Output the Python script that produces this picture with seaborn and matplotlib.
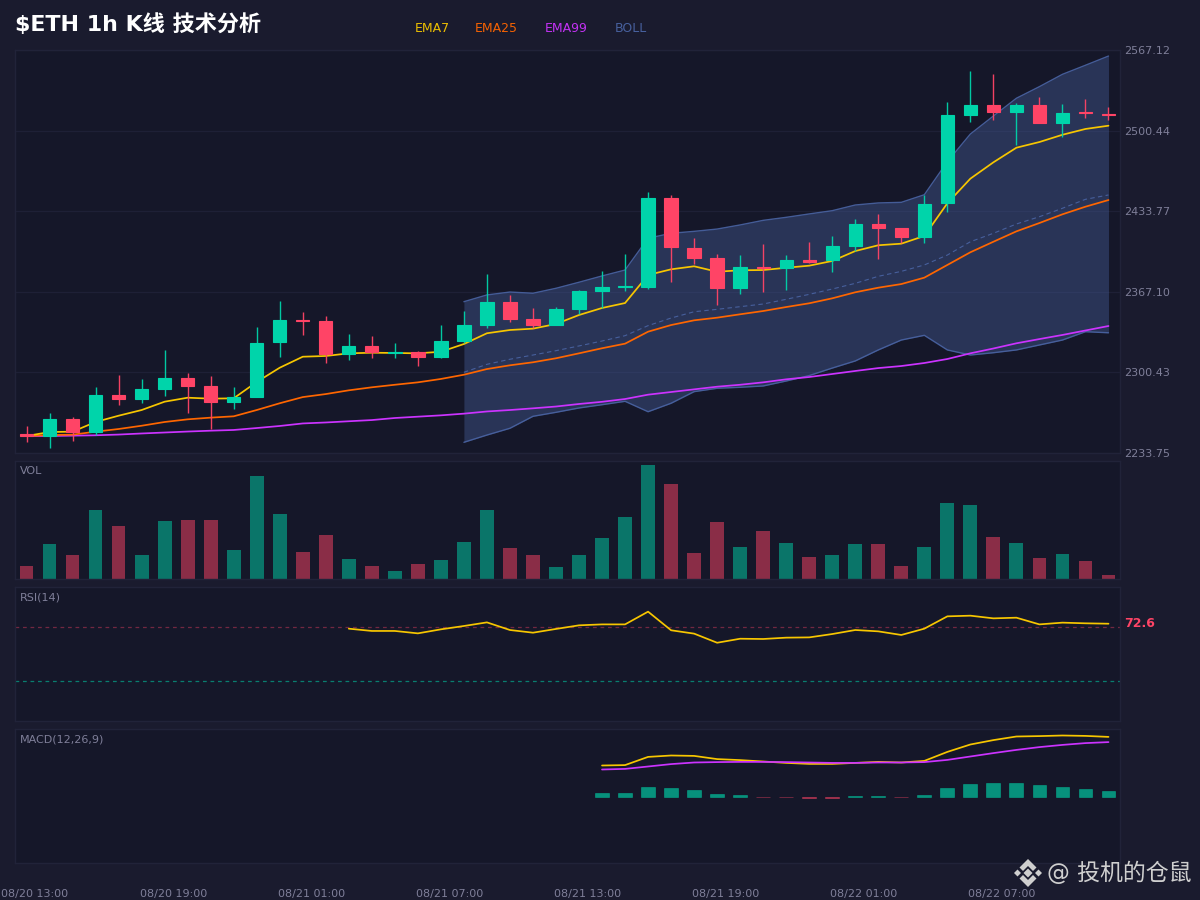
import numpy as np
import pandas as pd
import matplotlib
matplotlib.use("Agg")
import matplotlib.pyplot as plt
from matplotlib.patches import Polygon
from matplotlib.transforms import ScaledTranslation
import seaborn as sns

# ---------- data ----------
open_ = [2249.5,2248.1,2261.9,2251.4,2281.7,2278.4,2286.4,2295.5,2289.4,2276.2,2280.3,2325.3,2343.5,2343.0,2315.4,2322.5,
         2316.5,2317.5,2313.4,2326.1,2339.9,2358.7,2344.6,2339.9,2353.1,2367.5,2370.8,2371.3,2444.7,2403.6,2394.8,2370.5,
         2387.4,2387.0,2393.4,2393.2,2405.2,2423.0,2419.6,2412.7,2440.3,2513.6,2521.9,2516.1,2521.6,2506.5,2515.6,2514.1]
close = [2247.8,2261.9,2251.4,2281.7,2278.4,2286.4,2295.5,2289.4,2276.2,2280.0,2325.0,2343.8,2343.0,2315.4,2322.5,2317.5,
         2317.5,2313.4,2326.1,2339.9,2358.7,2344.8,2339.9,2352.9,2367.5,2371.3,2371.6,2444.7,2403.9,2394.8,2370.5,2387.4,
         2386.6,2393.2,2392.0,2405.0,2423.0,2419.9,2412.7,2440.0,2513.4,2521.9,2516.1,2521.6,2506.5,2515.2,2514.7,2513.6]
high = [2256.3,2267.1,2263.3,2288.1,2298.3,2294.7,2319.0,2299.7,2297.4,2288.3,2338.0,2359.5,2350.4,2347.1,2332.0,2330.3,
        2324.7,2318.1,2339.4,2351.2,2381.6,2364.5,2353.4,2354.8,2368.3,2384.3,2398.4,2449.4,2446.9,2411.4,2398.6,2397.3,
        2406.4,2397.3,2408.3,2413.5,2427.1,2431.7,2420.1,2447.4,2523.9,2549.5,2547.3,2523.0,2528.2,2522.4,2526.3,2519.9]
low = [2243.1,2238.1,2243.9,2248.6,2273.5,2274.9,2281.2,2267.1,2253.6,2270.4,2280.0,2313.2,2331.6,2308.4,2311.0,2312.1,
       2312.6,2306.0,2312.1,2324.7,2337.4,2341.9,2336.9,2339.6,2348.5,2354.0,2367.8,2369.7,2375.2,2390.1,2356.0,2365.0,
       2367.2,2368.6,2390.7,2383.2,2401.1,2394.5,2407.2,2407.7,2433.4,2507.6,2509.2,2488.8,2506.5,2494.9,2511.1,2509.2]

ema7 = [2247.8,2251.1,2251.4,2259.4,2264.6,2269.3,2276.2,2279.5,2278.7,2279.0,2292.5,2304.3,2313.4,2314.0,2316.2,2316.7,
        2316.5,2316.2,2317.5,2323.9,2332.8,2335.5,2336.6,2340.5,2347.9,2353.7,2357.8,2381.0,2385.7,2388.2,2383.7,2384.9,
        2385.1,2387.0,2388.7,2392.6,2400.8,2405.6,2406.9,2413.3,2440.3,2460.7,2474.2,2486.3,2491.0,2497.0,2501.8,2504.5]
ema25 = [2247.8,2248.6,2248.9,2251.4,2253.6,2256.3,2259.4,2261.6,2263.0,2264.1,2269.3,2274.9,2280.0,2282.5,2285.6,2288.1,
         2290.2,2292.2,2295.0,2298.5,2303.2,2306.3,2308.8,2312.1,2316.2,2320.4,2324.2,2334.1,2339.6,2343.5,2345.7,2348.5,
         2351.2,2354.5,2357.6,2361.7,2366.7,2370.5,2373.5,2378.8,2389.3,2399.8,2408.5,2417.1,2424.0,2431.2,2437.5,2443.0]
ema99 = [2247.8,2247.8,2248.1,2248.4,2249.0,2249.9,2250.7,2251.5,2252.2,2252.8,2254.4,2256.1,2258.2,2259.0,2260.0,2261.0,
         2262.7,2263.8,2264.9,2266.3,2268.1,2269.3,2270.7,2272.2,2274.3,2276.1,2278.4,2282.0,2284.2,2286.4,2288.6,2290.2,
         2292.2,2294.7,2296.6,2299.1,2301.6,2304.0,2305.7,2308.2,2311.5,2316.2,2320.2,2324.5,2328.0,2331.4,2335.1,2338.8]

boll_start = 19
boll_upper = [2358.9,2364.5,2366.9,2365.9,2370.0,2375.0,2380.2,2385.1,2411.4,2415.5,2417.1,2419.0,2422.4,2426.2,2428.7,
              2431.5,2434.2,2438.9,2440.6,2441.1,2447.4,2474.7,2497.6,2512.5,2527.2,2536.8,2547.0,2554.5,2562.1]
boll_mid = [2300.5,2307.1,2311.3,2314.8,2318.4,2322.3,2326.4,2330.8,2339.1,2345.4,2350.6,2352.6,2354.8,2357.0,2360.9,
            2365.0,2369.4,2374.1,2379.9,2384.0,2389.3,2397.5,2408.5,2415.5,2423.2,2429.2,2436.2,2443.6,2447.2]
boll_lower = [2242.6,2248.6,2254.2,2264.1,2267.4,2271.0,2273.7,2276.5,2267.9,2274.9,2284.5,2287.3,2288.1,2289.2,2293.3,
              2297.8,2304.0,2309.9,2319.0,2327.2,2331.1,2319.0,2314.8,2316.7,2319.0,2323.1,2327.2,2334.1,2333.2]

volume = [13,35,24,69,53,24,58,59.5,59.5,29,103,65,27.5,44,20,13,8,15,19,37,69,31,24,12.5,24,41,62,114,95,26,57,32,48,36,
          22,24.5,35,35,13,32,76,74,42,36,21.5,25,18,4.5]

rsi_start = 14
rsi = [68.9,67.2,67.2,65.4,68.4,70.9,73.6,67.9,65.9,68.7,71.4,72.1,72.1,81.6,67.7,65.2,58.4,61.4,61.2,62.2,62.4,64.9,67.9,
       66.9,64.2,68.9,78.1,78.6,76.6,77.1,72.1,73.4,72.9,72.6]

macd_start = 25
macd = [15.5,15.7,19.8,20.5,20.3,18.7,18.2,17.5,16.8,16.3,16.3,16.8,17.3,17.0,17.8,22.3,26.0,28.2,30.0,30.2,30.5,30.3,29.8]
signal = [13.5,13.8,15.0,16.2,17.0,17.2,17.3,17.3,17.2,17.0,16.8,16.8,17.0,17.0,17.2,18.3,20.0,21.7,23.3,24.7,25.8,26.7,27.2]
hist = [1.8,1.8,4.8,4.3,3.3,1.3,0.7,-0.1,-0.3,-0.5,-0.5,0.2,0.5,-0.1,0.7,4.2,6.3,6.8,6.8,5.7,4.8,3.7,2.7]

price_ticks = [2233.75,2300.43,2367.10,2433.77,2500.44,2567.12]
time_ticks = [0,6,12,18,24,30,36,42]
time_labels = ["08/20 13:00","08/20 19:00","08/21 01:00","08/21 07:00","08/21 13:00","08/21 19:00","08/22 01:00","08/22 07:00"]

# ---------- style ----------
BG = "#1a1b2e"
PANEL = "#151729"
EDGE = "#212339"
GRID = "#1e2036"
MUTED = "#7f7f99"
UP = "#00d4aa"
DOWN = "#ff4466"
C7 = "#f7c600"
C25 = "#ff6600"
C99 = "#cc33ff"
CB = "#4a64a4"

sns.set_theme(style="dark", rc={"figure.facecolor": BG, "axes.facecolor": PANEL, "axes.edgecolor": EDGE,
                                "axes.linewidth": 1.0, "savefig.facecolor": BG})
plt.rcParams["font.family"] = ["DejaVu Sans", "Noto Sans CJK SC"]

W, H = 1200, 900
fig = plt.figure(figsize=(12, 9), dpi=100)


def panel(top, bottom):
    return fig.add_axes([15 / W, 1 - bottom / H, 1105 / W, (bottom - top) / H])


ax = panel(50, 453)
ax_vol = panel(461, 579)
ax_rsi = panel(587, 721)
ax_macd = panel(729, 863)

n = len(close)
idx = np.arange(n)

# main price panel
bx = idx[boll_start:]
ax.fill_between(bx, boll_lower, boll_upper, color=CB, alpha=0.38, lw=0, zorder=1)
sns.lineplot(x=bx, y=boll_upper, ax=ax, color=CB, lw=1.0, alpha=0.9, zorder=1.5, errorbar=None)
sns.lineplot(x=bx, y=boll_lower, ax=ax, color=CB, lw=1.0, alpha=0.9, zorder=1.5, errorbar=None)
sns.lineplot(x=bx, y=boll_mid, ax=ax, color=CB, lw=0.8, alpha=0.9, zorder=1.5, errorbar=None, linestyle=(0, (4, 3)))
sns.lineplot(x=idx, y=ema99, ax=ax, color=C99, lw=1.25, zorder=2, errorbar=None)
sns.lineplot(x=idx, y=ema25, ax=ax, color=C25, lw=1.25, zorder=2, errorbar=None)
sns.lineplot(x=idx, y=ema7, ax=ax, color=C7, lw=1.25, zorder=2, errorbar=None)

colors = [UP if c >= o else DOWN for o, c in zip(open_, close)]
ax.vlines(idx, low, high, colors=colors, lw=1.0, alpha=0.95, zorder=3)
ax.bar(idx, np.abs(np.array(close) - np.array(open_)), bottom=np.minimum(open_, close), width=0.58,
       color=colors, edgecolor=colors, linewidth=0.8, zorder=4)
ax.set_ylim(price_ticks[0], price_ticks[-1])
ax.set_yticks(price_ticks)
ax.set_yticklabels([f"{v:.2f}" for v in price_ticks])
ax.grid(axis="y", color=GRID, lw=0.9)
ax.set_axisbelow(True)

# volume
direction = ["up" if c >= o else "down" for o, c in zip(open_, close)]
vdf = pd.DataFrame({"i": idx, "v": volume, "d": direction})
sns.barplot(data=vdf, x="i", y="v", hue="d", palette={"up": UP, "down": DOWN}, native_scale=True, dodge=False,
            width=0.6, alpha=0.5, legend=False, ax=ax_vol, errorbar=None, linewidth=0, saturation=1)
ax_vol.set_ylim(0, 118)

# RSI
ax_rsi.axhline(70, color=DOWN, lw=0.9, alpha=0.4, ls=(0, (3, 3)))
ax_rsi.axhline(30, color=UP, lw=0.9, alpha=0.55, ls=(0, (3, 3)))
sns.lineplot(x=idx[rsi_start:], y=rsi, ax=ax_rsi, color=C7, lw=1.25, errorbar=None)
ax_rsi.set_ylim(0, 100)
ax_rsi.text(1.0038, rsi[-1], f"{rsi[-1]:.1f}", transform=ax_rsi.get_yaxis_transform(), color=DOWN, fontsize=9,
            fontweight="bold", va="center", ha="left", clip_on=False)

# MACD
mx = idx[macd_start:]
hcol = [UP if h >= 0 else DOWN for h in hist]
ax_macd.bar(mx, hist, width=0.6, color=hcol, edgecolor=hcol, alpha=0.65, linewidth=0.4)
sns.lineplot(x=mx, y=macd, ax=ax_macd, color=C7, lw=1.25, errorbar=None)
sns.lineplot(x=mx, y=signal, ax=ax_macd, color=C99, lw=1.25, errorbar=None)
ax_macd.set_ylim(-33.25, 33.75)

# shared axis handling
for a in (ax, ax_vol, ax_rsi, ax_macd):
    a.set_xlim(-0.5, n - 0.5)
    a.set_xlabel("")
    a.set_ylabel("")
    a.set_xticks([])
    a.tick_params(length=0)
    for s in a.spines.values():
        s.set_color(EDGE)
        s.set_linewidth(1.0)
for a in (ax_vol, ax_rsi, ax_macd):
    a.set_yticks([])

ax.yaxis.tick_right()
ax.tick_params(axis="y", labelsize=8, labelcolor=MUTED, pad=3)

ax_macd.set_xticks(time_ticks)
ax_macd.set_xticklabels(time_labels)
ax_macd.tick_params(axis="x", labelsize=8, labelcolor=MUTED, pad=18.5)
offset = ScaledTranslation(8.5 / 100, 0, fig.dpi_scale_trans)
for lbl in ax_macd.get_xticklabels():
    lbl.set_transform(lbl.get_transform() + offset)


def px(x, y):
    return x / W, 1 - y / H


for a_label, y_label in (("VOL", 471.5), ("RSI(14)", 597), ("MACD(12,26,9)", 739.5)):
    fig.text(*px(20, y_label), a_label, color=MUTED, fontsize=8, ha="left", va="center")

fig.text(*px(15, 24), "$ETH 1h K线 技术分析", color="white", fontsize=15.9, fontweight="bold", ha="left", va="center")
for label, xp, col in (("EMA7", 415, C7), ("EMA25", 475, C25), ("EMA99", 545, C99), ("BOLL", 615, CB)):
    fig.text(*px(xp, 28), label, color=col, fontsize=9, ha="left", va="center", alpha=0.95)

# watermark: exchange logo and handle
wm = "#cfcfcf"
cx, cy = 1028, 873
shapes = [
    [(0, -4.5), (4.5, 0), (0, 4.5), (-4.5, 0)],
    [(-14, 0), (-10.5, -3.5), (-7, 0), (-10.5, 3.5)],
    [(14, 0), (10.5, -3.5), (7, 0), (10.5, 3.5)],
    [(0, -14), (8.5, -5.5), (5, -2), (0, -7), (-5, -2), (-8.5, -5.5)],
    [(0, 14), (8.5, 5.5), (5, 2), (0, 7), (-5, 2), (-8.5, 5.5)],
]
for s in shapes:
    fig.add_artist(Polygon([px(cx + dx, cy + dy) for dx, dy in s], closed=True, transform=fig.transFigure,
                           facecolor=wm, edgecolor="none"))
fig.text(*px(1047, 873), "@ 投机的仓鼠", color=wm, fontsize=16.5, ha="left", va="center",
         family=["DejaVu Sans", "Noto Sans CJK SC"])

fig.savefig("out.png", dpi=100, facecolor=BG)
